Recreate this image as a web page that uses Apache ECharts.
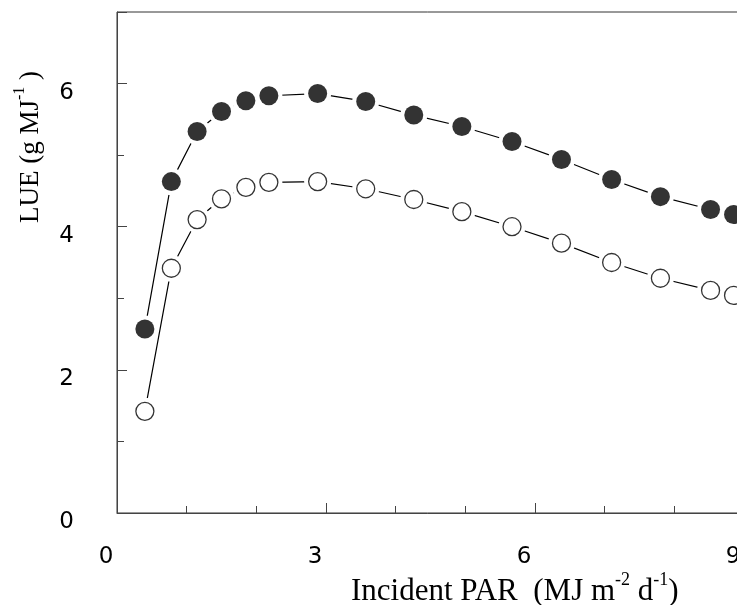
<!DOCTYPE html>
<html>
<head>
<meta charset="utf-8">
<script src="https://cdn.jsdelivr.net/npm/echarts@6/dist/echarts.min.js"></script>
<style>
  html, body { margin: 0; padding: 0; background: #fff; }
  #chart { width: 737px; height: 605px; }
</style>
</head>
<body>
<div id="chart"></div>
<script>
// incident PAR (MJ m-2 d-1)
const parX = [0.40, 0.78, 1.15, 1.50, 1.85, 2.18, 2.88, 3.57, 4.26, 4.95, 5.67, 6.38, 7.10, 7.80, 8.52, 8.85]
// LUE, filled circles
const lueFilled = [2.57, 4.63, 5.33, 5.61, 5.76, 5.83, 5.86, 5.75, 5.56, 5.40, 5.19, 4.94, 4.66, 4.42, 4.24, 4.17]
// LUE, open circles
const lueOpen = [1.42, 3.42, 4.10, 4.39, 4.55, 4.62, 4.63, 4.53, 4.38, 4.21, 4.00, 3.77, 3.50, 3.28, 3.11, 3.04]

const xTicks = [0, 3, 6, 9]
const yTicks = [0, 2, 4, 6]

const pairs = (ys) => parX.map((x, i) => [x, ys[i]])

const chart = echarts.init(document.getElementById('chart'))

const tickFont = { color: '#000', fontFamily: 'DejaVu Sans', fontSize: 23 }
const titleRich = (size, sup) => ({
  b: { fontFamily: 'Liberation Serif', fontSize: size, color: '#000', lineHeight: size + 5, verticalAlign: 'bottom' },
  s: { fontFamily: 'Liberation Serif', fontSize: sup, color: '#000', lineHeight: size + 5, verticalAlign: 'top' },
})

// white halo under each marker makes the gap between line and symbol
const lineSeries = (ys) => ({
  type: 'line',
  data: pairs(ys),
  symbol: 'circle',
  symbolSize: 27,
  itemStyle: { color: '#fff', borderWidth: 0 },
  lineStyle: { color: '#000', width: 1.2 },
  clip: false,
  animation: false,
  z: 2,
})

chart.setOption({
  backgroundColor: '#fff',
  animation: false,
  grid: {
    left: 117, top: 12, width: 627, height: 501,
    outerBoundsMode: 'none',
    show: true, borderColor: '#333', borderWidth: 1, backgroundColor: 'transparent',
  },
  xAxis: {
    type: 'value', min: 0, max: 9, interval: 3,
    axisLine: { lineStyle: { color: '#444', width: 1 } },
    axisTick: { inside: true, length: 10, lineStyle: { color: '#444' } },
    minorTick: { show: true, splitNumber: 3, length: 7, lineStyle: { color: '#444' } },
    splitLine: { show: false },
    axisLabel: {
      ...tickFont, margin: 33, padding: [0, 22, 0, 0],
      formatter: (v) => (xTicks.includes(v) ? String(v) : ''),
    },
  },
  yAxis: [
    {
      type: 'value', min: 0, max: 7, interval: 1, position: 'left',
      axisLine: { show: true, lineStyle: { color: '#444', width: 1 } },
      axisTick: { inside: true, length: 7, lineStyle: { color: '#444' } },
      splitLine: { show: false },
      axisLabel: {
        ...tickFont, margin: 43, verticalAlign: 'top', lineHeight: 18,
        formatter: (v) => (yTicks.includes(v) ? String(v) : ''),
      },
    },
    {
      type: 'value', min: 0, max: 7, interval: 2, position: 'left', offset: 0,
      axisLine: { show: false },
      axisTick: { show: true, inside: true, length: 10, lineStyle: { color: '#444' } },
      splitLine: { show: false },
      axisLabel: { show: false },
    },
  ],
  series: [
    lineSeries(lueFilled),
    lineSeries(lueOpen),
    {
      type: 'scatter', data: pairs(lueFilled), symbol: 'circle', symbolSize: 19,
      itemStyle: { color: '#000', borderColor: '#000', borderWidth: 0 },
      clip: false, z: 3,
    },
    {
      type: 'scatter', data: pairs(lueOpen), symbol: 'circle', symbolSize: 18,
      itemStyle: { color: '#fff', borderColor: '#000', borderWidth: 1.3 },
      clip: false, z: 3,
    },
  ],
  graphic: [
    {
      type: 'text', x: 351, y: 589,
      style: {
        text: '{b|Incident PAR  (MJ m}{s|-2}{b| d}{s|-1}{b|)}',
        rich: titleRich(31, 18), align: 'left', verticalAlign: 'middle',
      },
    },
    {
      type: 'text', x: 28, y: 223, rotation: Math.PI / 2,
      style: {
        text: '{b|LUE (g MJ}{s|-1}{b| )}',
        rich: titleRich(27, 16), align: 'left', verticalAlign: 'middle',
      },
    },
  ],
})
</script>
</body>
</html>
